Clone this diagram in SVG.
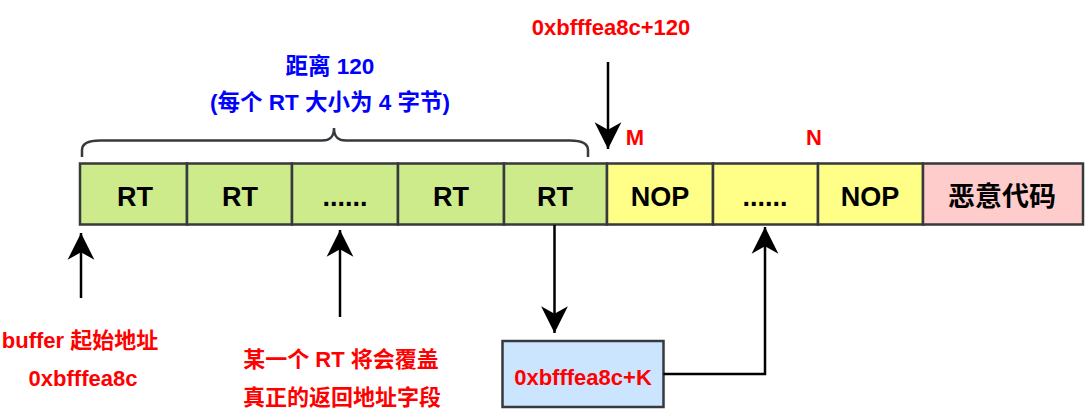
<svg xmlns="http://www.w3.org/2000/svg" width="1090" height="418" viewBox="0 0 1090 418">
<style>
text{font-family:"Liberation Sans","Noto Sans CJK SC",sans-serif;font-weight:bold;text-anchor:middle}
.cell{stroke:#36393d;stroke-width:2.5}
.g{fill:#cdeb8b}.y{fill:#ffff88}.p{fill:#ffcccc}.b{fill:#cce5ff}
.ct{font-size:27px;fill:#000}
.red{font-size:22px;fill:#ff0000}
.blue{font-size:22.5px;fill:#0000ff}
.ln{stroke:#000;stroke-width:2.5;fill:none}
</style>
<defs>
<marker id="ah" markerUnits="userSpaceOnUse" markerWidth="30" markerHeight="30" viewBox="-26 -14 28 28" refX="0" refY="0" orient="auto">
<path d="M0,0 L-25,-12.5 L-18,0 L-25,12.5 Z" fill="#000"/>
</marker>
</defs>
<rect width="1090" height="418" fill="#fff"/>
<g id="cell-rt1"><rect class="cell g" x="80" y="163.5" width="107" height="61"/><text class="ct" x="135" y="206">RT</text></g>
<g id="cell-rt2"><rect class="cell g" x="187" y="163.5" width="105" height="61"/><text class="ct" x="240" y="206">RT</text></g>
<g id="cell-dots1"><rect class="cell g" x="292" y="163.5" width="106" height="61"/><text class="ct" x="345" y="206">......</text></g>
<g id="cell-rt3"><rect class="cell g" x="398" y="163.5" width="106" height="61"/><text class="ct" x="451" y="206">RT</text></g>
<g id="cell-rt4"><rect class="cell g" x="504" y="163.5" width="103" height="61"/><text class="ct" x="555" y="206">RT</text></g>
<g id="cell-nop1"><rect class="cell y" x="607" y="163.5" width="106" height="61"/><text class="ct" x="660" y="206">NOP</text></g>
<g id="cell-dots2"><rect class="cell y" x="713" y="163.5" width="105" height="61"/><text class="ct" x="765" y="206">......</text></g>
<g id="cell-nop2"><rect class="cell y" x="818" y="163.5" width="105" height="61"/><text class="ct" x="870" y="206">NOP</text></g>
<g id="cell-code"><rect class="cell p" x="923" y="163.5" width="160" height="61"/><text class="ct" x="1002" y="206">恶意代码</text></g>
<g id="box-k"><rect class="cell b" x="502.5" y="341" width="161" height="66"/><text class="red" x="583" y="385">0xbfffea8c+K</text></g>
<g id="brace"><path d="M82,157 V150 C82,143 88,140.5 100,140.5 H322 C330,140.5 334,137 334,128 C334,137 338,140.5 346,140.5 H570 C582,140.5 588,143 588,150 V157" fill="none" stroke="#36393d" stroke-width="2.5"/></g>
<g id="labels">
<text class="blue" x="330" y="74">距离 120</text>
<text class="blue" x="330" y="110">(每个 RT 大小为 4 字节)</text>
<text class="red" x="611" y="35">0xbfffea8c+120</text>
<text class="red" x="635" y="145">M</text>
<text class="red" x="814" y="145">N</text>
<text class="red" x="80" y="348">buffer 起始地址</text>
<text class="red" x="83" y="386">0xbfffea8c</text>
<text class="red" x="341" y="367">某一个 RT 将会覆盖</text>
<text class="red" x="342" y="405">真正的返回地址字段</text>
</g>
<g id="connectors">
<path class="ln" d="M608,62 V149" marker-end="url(#ah)"/>
<path class="ln" d="M81,298 V233" marker-end="url(#ah)"/>
<path class="ln" d="M340,317 V230" marker-end="url(#ah)"/>
<path class="ln" d="M554.5,225 V333" marker-end="url(#ah)"/>
<path class="ln" d="M663.5,374 H765 V227" marker-end="url(#ah)"/>
</g>
</svg>
